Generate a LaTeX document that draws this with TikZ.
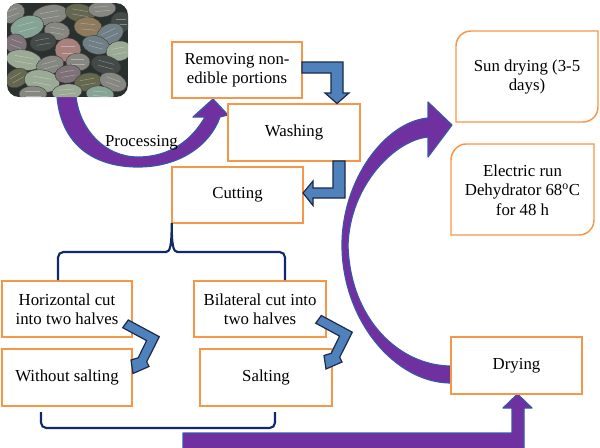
\documentclass[tikz,border=0pt]{standalone}
\usepackage{fontspec}
\setmainfont{Liberation Serif}
\definecolor{boxorange}{HTML}{F79646}
\definecolor{arrpurple}{HTML}{7030A0}
\definecolor{arredge}{HTML}{3A56A8}
\definecolor{arrblue}{HTML}{4F81BD}
\definecolor{arrblueedge}{HTML}{1C2B4A}
\definecolor{bracenavy}{HTML}{10296B}
\definecolor{sA}{HTML}{86A496}
\definecolor{sB}{HTML}{858780}
\definecolor{sC}{HTML}{8E7A5E}
\definecolor{sD}{HTML}{A8807C}
\definecolor{sE}{HTML}{434A48}
\definecolor{sF}{HTML}{7F7178}
\definecolor{sG}{HTML}{66674F}
\definecolor{sH}{HTML}{9AAA94}
\definecolor{sI}{HTML}{707E86}
\definecolor{photobg}{HTML}{2A302E}
\newcommand\myseed[6]{\filldraw[fill=#6, draw=black!75, line width=0.3pt, rotate around={#5:(#1,#2)}] (#1,#2) ellipse [x radius=#3, y radius=#4];
  \draw[white!35!#6, line width=0.35pt, rotate around={#5:(#1,#2)}] ($(#1,#2)+(-0.55*#3,-0.3*#4)$) -- ($(#1,#2)+(0.5*#3,-0.3*#4)$)
     ($(#1,#2)+(-0.5*#3,0.25*#4)$) -- ($(#1,#2)+(0.55*#3,0.25*#4)$);}
\usetikzlibrary{calc}
\tikzset{
  txt/.style={font=\fontsize{12.6pt}{14.6pt}\selectfont},
  box/.style={txt, draw=boxorange, line width=1.1pt, fill=white, inner sep=0pt, align=center},
  roundbox/.style={draw=boxorange, line width=1.1pt, fill=white},
  bigarrow/.style={fill=arrpurple, draw=arredge, line width=0.9pt, line join=round},
  smallarrow/.style={fill=arrblue, draw=arrblueedge, line width=0.9pt, line join=miter},
  bracket/.style={draw=bracenavy, line width=1.6pt, rounded corners=4pt},
  lbl/.style={txt, inner sep=0pt, align=center}
}
\begin{document}
\begin{tikzpicture}[x=0.75pt,y=-0.75pt]
\useasboundingbox (0,0) rectangle (600,447);
\clip (0,0) rectangle (600,447);

% processing arrow (under the photo)
\draw[bigarrow] (57,90) -- (57,97) .. controls (62,150) and (100,167) .. (138,167)
  .. controls (180,167) and (210,145) .. (220,117) -- (228,115) -- (213,99) -- (193,117) -- (205,117)
  .. controls (192,140) and (170,157) .. (138,157) .. controls (105,157) and (80,130) .. (76,97) -- (76,90) -- cycle;

% photo
\begin{scope}
  \clip[rounded corners=9pt] (7,3) rectangle (128,97);
  \fill[photobg] (7,3) rectangle (128,97);
  \myseed{12}{13}{13}{10}{20}{sB}
  \myseed{50}{15}{18}{10}{10}{sB}
  \myseed{80}{13}{15}{9}{-10}{sG}
  \myseed{102}{9}{14}{8}{5}{sB}
  \myseed{121}{22}{10}{10}{0}{sE}
  \myseed{27}{27}{17}{11}{15}{sA}
  \myseed{57}{31}{13}{9}{-10}{sB}
  \myseed{88}{27}{14}{10}{-5}{sC}
  \myseed{110}{34}{14}{10}{25}{sI}
  \myseed{16}{44}{11}{10}{-20}{sF}
  \myseed{43}{42}{13}{9}{10}{sE}
  \myseed{68}{50}{13}{12}{0}{sD}
  \myseed{96}{45}{14}{9}{-15}{sI}
  \myseed{119}{51}{13}{10}{10}{sH}
  \myseed{24}{60}{18}{10}{-10}{sH}
  \myseed{50}{65}{14}{9}{15}{sB}
  \myseed{78}{62}{12}{9}{0}{sB}
  \myseed{106}{65}{15}{9}{-15}{sE}
  \myseed{17}{78}{12}{9}{30}{sG}
  \myseed{42}{81}{18}{11}{-10}{sH}
  \myseed{68}{74}{13}{9}{10}{sF}
  \myseed{88}{82}{14}{9}{10}{sG}
  \myseed{113}{82}{14}{9}{-20}{sB}
  \myseed{33}{94}{14}{8}{0}{sB}
  \myseed{67}{92}{15}{8}{5}{sH}
  \myseed{100}{94}{14}{8}{-5}{sA}
\end{scope}

% big curved arrow from Drying to the drying methods
\draw[bigarrow] (451,383) .. controls (395,383) and (342,320) .. (342,245)
  .. controls (342,180) and (385,122) .. (428,118) -- (428,102) -- (452,125) -- (428,157) -- (428,137)
  .. controls (395,140) and (350,185) .. (348,245) .. controls (350,320) and (400,366) .. (451,366) -- cycle;

% bottom arrow into Drying
\draw[bigarrow] (183,450) -- (183,433) -- (512,433) -- (512,408) -- (503,408) -- (517.5,394)
  -- (532,408) -- (524,408) -- (524,450) -- cycle;

% boxes
\node[box, minimum width=97.5pt, minimum height=42pt] (remove) at (237,70) {Removing non-\\edible portions};
\node[box, minimum width=99pt, minimum height=42.75pt] (wash) at (294,132.5) {Washing};
\node[box, minimum width=98.25pt, minimum height=42pt] (cut) at (237.5,195) {Cutting};
\node[box, minimum width=97.5pt, minimum height=42pt] (hcut) at (67,309) {Horizontal cut\\into two halves};
\node[box, minimum width=97.5pt, minimum height=42.75pt] (nosalt) at (67,377.5) {Without salting};
\node[box, minimum width=99pt, minimum height=42pt] (bcut) at (260,309) {Bilateral cut into\\two halves};
\node[box, minimum width=99pt, minimum height=42.75pt] (salt) at (266,377.5) {Salting};
\node[box, minimum width=98.25pt, minimum height=42.75pt] (dry) at (516.5,365.5) {Drying};

% round-diagonal boxes
\draw[roundbox] (456,122) -- (456,46) .. controls (456,37.7) and (462.7,31) .. (471,31) -- (598,31)
  -- (598,107) .. controls (598,115.3) and (591.3,122) .. (583,122) -- cycle;
\node[lbl] (sun) at (527,77) {Sun drying (3-5\\days)};
\draw[roundbox] (451,235) -- (451,160) .. controls (451,151.7) and (457.7,144) .. (466,144) -- (594,144)
  -- (594,220) .. controls (594,228.3) and (587.3,235) .. (579,235) -- cycle;
\node[lbl] (elec) at (522.5,190) {Electric run\\Dehydrator 68\textsuperscript{o}C\\for 48 h};

% small bent arrows
\draw[smallarrow] (302,62) -- (343,62) -- (343,93) -- (349,93) -- (337,103.5) -- (325,93) -- (331,93) -- (331,73) -- (302,73) -- cycle;
\draw[smallarrow] (333,161) -- (345,161) -- (345,198) -- (313,198) -- (313,205.5) -- (303,193) -- (313,181) -- (313,188) -- (333,188) -- cycle;
\draw[smallarrow] (128.3,320) -- (159.3,336.7) -- (146.7,361.7) -- (149,366.5) -- (133,373.5) -- (131,360) -- (138.2,357.8) -- (146.6,340.6) -- (122.7,327.7) -- cycle;
\begin{scope}[shift={(193,-4.5)}]
\draw[smallarrow] (128.3,320) -- (159.3,336.7) -- (146.7,361.7) -- (149,366.5) -- (133,373.5) -- (131,360) -- (138.2,357.8) -- (146.6,340.6) -- (122.7,327.7) -- cycle;
\end{scope}

% braces
\draw[bracket] (58,280) -- (58,252) -- (167,252);
\draw[bracket] (176.5,252) -- (285,252) -- (285,280);
\draw[draw=bracenavy, line width=1.6pt] (166,252) .. controls (170,252) and (171.7,246) .. (171.7,223)
  .. controls (171.7,246) and (173.4,252) .. (177.5,252);
\draw[bracket] (41,412) -- (41,428) -- (275,428) -- (275,412);

% label
\node[lbl, anchor=base] (proc) at (141.5,146.7) {Processing};
\end{tikzpicture}
\end{document}
